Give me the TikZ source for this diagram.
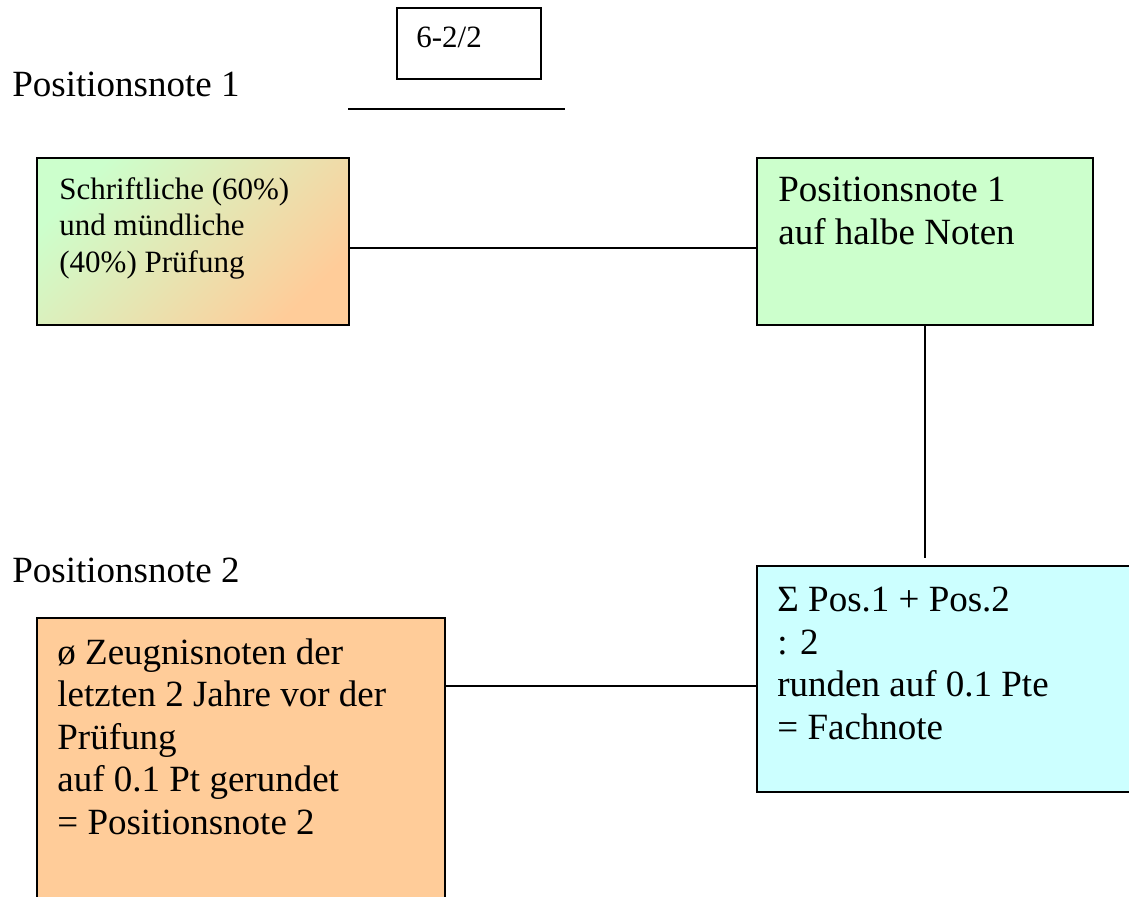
\documentclass[tikz,border=0pt]{standalone}
\usepackage{fontspec}
\setmainfont{Liberation Serif}
\definecolor{paleGreen}{HTML}{CCFFCC}
\definecolor{paleCyan}{HTML}{CCFFFF}
\definecolor{peach}{HTML}{FFCC99}

\begin{document}
\begin{tikzpicture}[x=0.5pt,y=-0.5pt]
    \tikzstyle{box}=[draw=black,line width=1pt,rectangle,inner sep=0pt,anchor=north west]
    \tikzstyle{big}=[font=\fontsize{18.5}{21.25}\selectfont,inner sep=0pt,anchor=north west,align=left]
    \tikzstyle{small}=[font=\fontsize{15.5}{18.25}\selectfont,inner sep=0pt,anchor=north west,align=left]
    \tikzstyle{link}=[line width=0.75pt]
    \useasboundingbox (0,0) rectangle (1129,897);

    % Positionsnote 1
    \node[big,anchor=base west] (pos1) at (12,97) {Positionsnote 1};
    \node[box,minimum width=72pt,minimum height=35.5pt] (frac) at (396,7) {};
    \node[small] (fractxt) at ([shift={(20,20)}]frac.north west) {6-2/2};
    \coordinate (bar1) at (348,109);
    \coordinate (bar2) at (565,109);
    \draw[link] (bar1) -- (bar2);

    \node[box,minimum width=156pt,minimum height=83.5pt,
          top color=paleGreen,bottom color=peach,shading angle=45] (schr) at (36,157) {};
    \node[small] (schrtxt) at ([shift={(23,20)}]schr.north west)
      {Schriftliche (60\%)\\und mündliche\\(40\%) Prüfung};
    \node[box,minimum width=168pt,minimum height=83.5pt,fill=paleGreen] (halb) at (756,157) {};
    \node[big] (halbtxt) at ([shift={(22,20)}]halb.north west)
      {Positionsnote 1\\auf halbe Noten};
    \draw[link] ([yshift=-3.25pt]schr.east) -- ([yshift=-3.25pt]halb.west);

    % Positionsnote 2
    \node[big,anchor=base west] (pos2) at (12,582) {Positionsnote 2};
    \node[box,minimum width=204pt,minimum height=144pt,fill=peach] (avg) at (36,617) {};
    \node[big] (avgtxt) at ([shift={(21,21)}]avg.north west)
      {ø Zeugnisnoten der\\letzten 2 Jahre vor der\\Prüfung\\auf 0.1 Pt gerundet\\= Positionsnote 2};
    \node[box,minimum width=189.5pt,minimum height=113pt,fill=paleCyan] (fach) at (756,565) {};
    \node[big] (fachtxt) at ([shift={(21,22)}]fach.north west)
      {Σ Pos.1 + Pos.2\\: 2\\runden auf 0.1 Pte\\= Fachnote};
    \coordinate (l2) at ([yshift=-3.5pt]fach.west);
    \draw[link] (avg.east |- l2) -- (l2);
    \coordinate (vend) at (924,558);
    \draw[link] (halb.south) -- (halb.south |- vend);
\end{tikzpicture}
\end{document}
